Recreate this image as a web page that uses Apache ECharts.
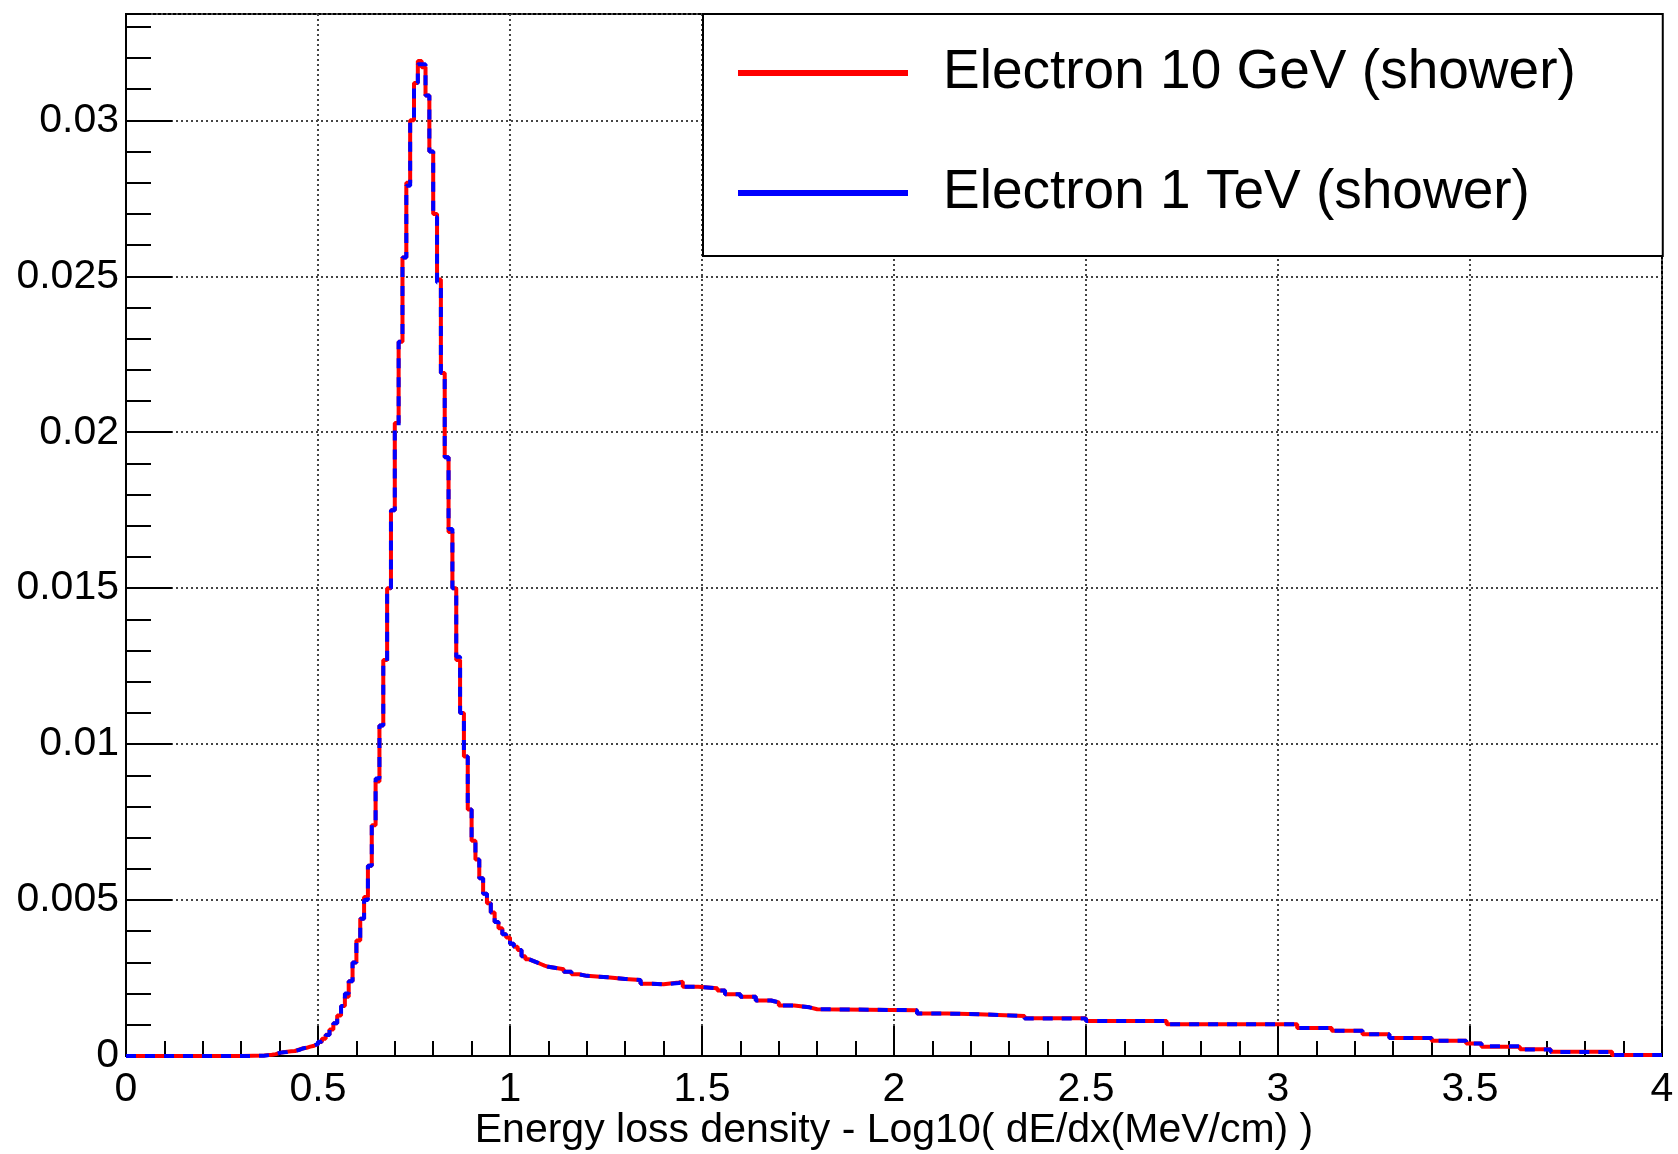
<!DOCTYPE html>
<html><head><meta charset="utf-8">
<script src="https://cdn.jsdelivr.net/npm/echarts@6/dist/echarts.min.js"></script>
<style>html,body{margin:0;padding:0;background:#fff}#c{width:1678px;height:1154px}</style>
</head><body><div id="c"></div>
<script>
// Histogram step edges (low edge of each step) and step heights
const binEdges = [
  0.00, 0.30, 0.36, 0.38, 0.39, 0.40, 0.41, 0.42, 0.43, 0.44,
  0.45, 0.46, 0.47, 0.48, 0.49, 0.50, 0.51, 0.52, 0.53, 0.54,
  0.55, 0.56, 0.57, 0.58, 0.59, 0.60, 0.61, 0.62, 0.63, 0.64,
  0.65, 0.66, 0.67, 0.68, 0.69, 0.70, 0.71, 0.72, 0.73, 0.74,
  0.75, 0.76, 0.77, 0.78, 0.79, 0.80, 0.81, 0.82, 0.83, 0.84,
  0.85, 0.86, 0.87, 0.88, 0.89, 0.90, 0.91, 0.92, 0.93, 0.94,
  0.95, 0.96, 0.97, 0.98, 0.99, 1.00, 1.01, 1.02, 1.03, 1.04,
  1.05, 1.06, 1.07, 1.08, 1.09, 1.10, 1.12, 1.14, 1.16, 1.18,
  1.20, 1.26, 1.30, 1.34, 1.37, 1.40, 1.44, 1.45, 1.49, 1.54,
  1.56, 1.60, 1.64, 1.68, 1.70, 1.74, 1.78, 1.80, 2.06, 2.14,
  2.22, 2.34, 2.50, 2.71, 3.05, 3.14, 3.22, 3.29, 3.40, 3.49,
  3.53, 3.63, 3.71, 3.87
];
const xEnd = 4.0;

const red10GeV = [
  0, 0.00002, 0.00004, 0.00006, 0.0001, 0.00012, 0.00014, 0.00015, 0.00016, 0.0002,
  0.00024, 0.00026, 0.0003, 0.00033, 0.00038, 0.00045, 0.00055, 0.00068, 0.00085, 0.00105,
  0.0013, 0.0016, 0.0019, 0.0024, 0.0030, 0.0037, 0.0044, 0.0051, 0.0061, 0.0074,
  0.0088, 0.0106, 0.0127, 0.0150, 0.0175, 0.0203, 0.0229, 0.0256, 0.0280, 0.0300,
  0.0312, 0.0319, 0.0317, 0.0308, 0.0290, 0.0270, 0.0249, 0.0219, 0.0192, 0.0168,
  0.0150, 0.0127, 0.0110, 0.0096, 0.0079, 0.0069, 0.0063, 0.0057, 0.0052, 0.0049,
  0.0046, 0.0043, 0.0041, 0.0039, 0.0038, 0.0036, 0.0035, 0.0034, 0.0032, 0.0031,
  0.00305, 0.0030, 0.00295, 0.0029, 0.00286, 0.00282, 0.00278, 0.0027, 0.00262, 0.00257,
  0.00252, 0.00247, 0.00244, 0.00232, 0.0023, 0.00236, 0.00238, 0.00222, 0.00217, 0.0021,
  0.00198, 0.0019, 0.00178, 0.00172, 0.00162, 0.00156, 0.0015, 0.00147, 0.00136, 0.00134,
  0.00128, 0.00121, 0.00112, 0.00102, 0.0009, 0.00081, 0.0007, 0.00058, 0.00049, 0.0004,
  0.0003, 0.00022, 0.00014, 0.00003
];

const blue1TeV = [
  0, 0.00001, 0.00004, 0.00006, 0.0001, 0.00012, 0.00013, 0.00015, 0.00017, 0.00019,
  0.00024, 0.00027, 0.0003, 0.00034, 0.00038, 0.00046, 0.00055, 0.00067, 0.00086, 0.00105,
  0.0013, 0.0016, 0.0020, 0.0024, 0.0030, 0.0037, 0.0044, 0.0050, 0.0061, 0.0074,
  0.0089, 0.0106, 0.0126, 0.0150, 0.0175, 0.0202, 0.0229, 0.0256, 0.0279, 0.0300,
  0.0312, 0.0318, 0.0318, 0.0308, 0.0290, 0.0269, 0.0248, 0.0219, 0.0192, 0.0169,
  0.0150, 0.0128, 0.0110, 0.0096, 0.0079, 0.0069, 0.0063, 0.0057, 0.0052, 0.0049,
  0.0046, 0.0043, 0.0041, 0.0039, 0.0038, 0.0036, 0.0035, 0.0034, 0.0032, 0.0031,
  0.00305, 0.0030, 0.00295, 0.0029, 0.00286, 0.00282, 0.00278, 0.0027, 0.00262, 0.00257,
  0.00252, 0.00247, 0.00244, 0.00232, 0.0023, 0.00234, 0.00238, 0.00222, 0.00217, 0.0021,
  0.00198, 0.0019, 0.00178, 0.00172, 0.00162, 0.00156, 0.0015, 0.00147, 0.00136, 0.00134,
  0.00128, 0.0012, 0.00112, 0.00102, 0.0009, 0.00081, 0.0007, 0.00058, 0.00049, 0.0004,
  0.00031, 0.00021, 0.00013, 0.00003
];

const seriesNames = ['Electron 10 GeV (shower)', 'Electron 1 TeV (shower)'];
const xTitle = 'Energy loss density - Log10( dE/dx(MeV/cm) )';
const xMin = 0, xMax = 4, xStep = 0.5;
const yMin = 0, yMax = 0.03341, yStep = 0.005, yMinorStep = 0.001;

function toSteps(edges, vals, end) {
  const d = edges.map((x, i) => [x, vals[i]]);
  d.push([end, vals[vals.length - 1]]);
  return d;
}

const FONT = 'Liberation Sans, Arial, Helvetica, sans-serif';
const chart = echarts.init(document.getElementById('c'), null, {renderer: 'canvas'});
chart.setOption({
  animation: false,
  backgroundColor: '#fff',
  grid: {left: 126, top: 14, right: 16, bottom: 98, containLabel: false, outerBoundsMode: 'none',
         show: true, borderColor: '#000', borderWidth: 2, backgroundColor: 'transparent'},
  legend: {
    left: 703, top: 14, orient: 'vertical',
    backgroundColor: '#fff', borderColor: '#000', borderWidth: 2, borderRadius: 0,
    padding: [29, 87, 33, 35],
    itemGap: 60, itemWidth: 170, itemHeight: 6, icon: 'rect',
    itemStyle: {borderWidth: 0},
    textStyle: {fontFamily: FONT, fontSize: 55, color: '#000', lineHeight: 60, padding: [0, 0, 0, 30]},
    data: seriesNames
  },
  xAxis: [{
    type: 'value', min: xMin, max: xMax, interval: xStep, position: 'bottom',
    axisLine: {show: true, onZero: false, lineStyle: {color: '#000', width: 2}},
    axisTick: {show: true, inside: true, length: 30, lineStyle: {color: '#000', width: 2}},
    minorTick: {show: true, splitNumber: 5, length: 15, lineStyle: {color: '#000', width: 2}},
    splitLine: {show: true, lineStyle: {color: '#444', width: 2, type: [2, 3]}},
    axisLabel: {margin: 13, fontSize: 41, fontFamily: FONT, color: '#000'},
    name: xTitle, nameLocation: 'middle', nameGap: 54, nameMoveOverlap: false,
    nameTextStyle: {fontSize: 41, fontFamily: FONT, color: '#000', verticalAlign: 'top'}
  }],
  yAxis: [{
    type: 'value', min: yMin, max: yMax, interval: yStep, position: 'left',
    axisLine: {show: true, onZero: false, lineStyle: {color: '#000', width: 2}},
    axisTick: {show: true, inside: true, length: 46, lineStyle: {color: '#000', width: 2}},
    splitLine: {show: true, lineStyle: {color: '#444', width: 2, type: [2, 3]}},
    axisLabel: {margin: 7, fontSize: 41, fontFamily: FONT, color: '#000', showMaxLabel: false}
  }, {
    type: 'value', min: yMin, max: yMax, interval: yMinorStep, position: 'left',
    axisLine: {show: false},
    axisTick: {show: true, inside: true, length: 25, lineStyle: {color: '#000', width: 2}},
    splitLine: {show: false},
    axisLabel: {show: false}
  }],
  series: [{
    name: seriesNames[0], type: 'line', step: 'end', yAxisIndex: 0,
    data: toSteps(binEdges, red10GeV, xEnd), symbol: 'none', silent: true, z: 3,
    itemStyle: {color: '#f00'}, lineStyle: {color: '#f00', width: 4}
  }, {
    name: seriesNames[1], type: 'line', step: 'end', yAxisIndex: 0,
    data: toSteps(binEdges, blue1TeV, xEnd), symbol: 'none', silent: true, z: 4,
    itemStyle: {color: '#00f'}, lineStyle: {color: '#00f', width: 4, type: [10, 9]}
  }]
});
</script></body></html>
